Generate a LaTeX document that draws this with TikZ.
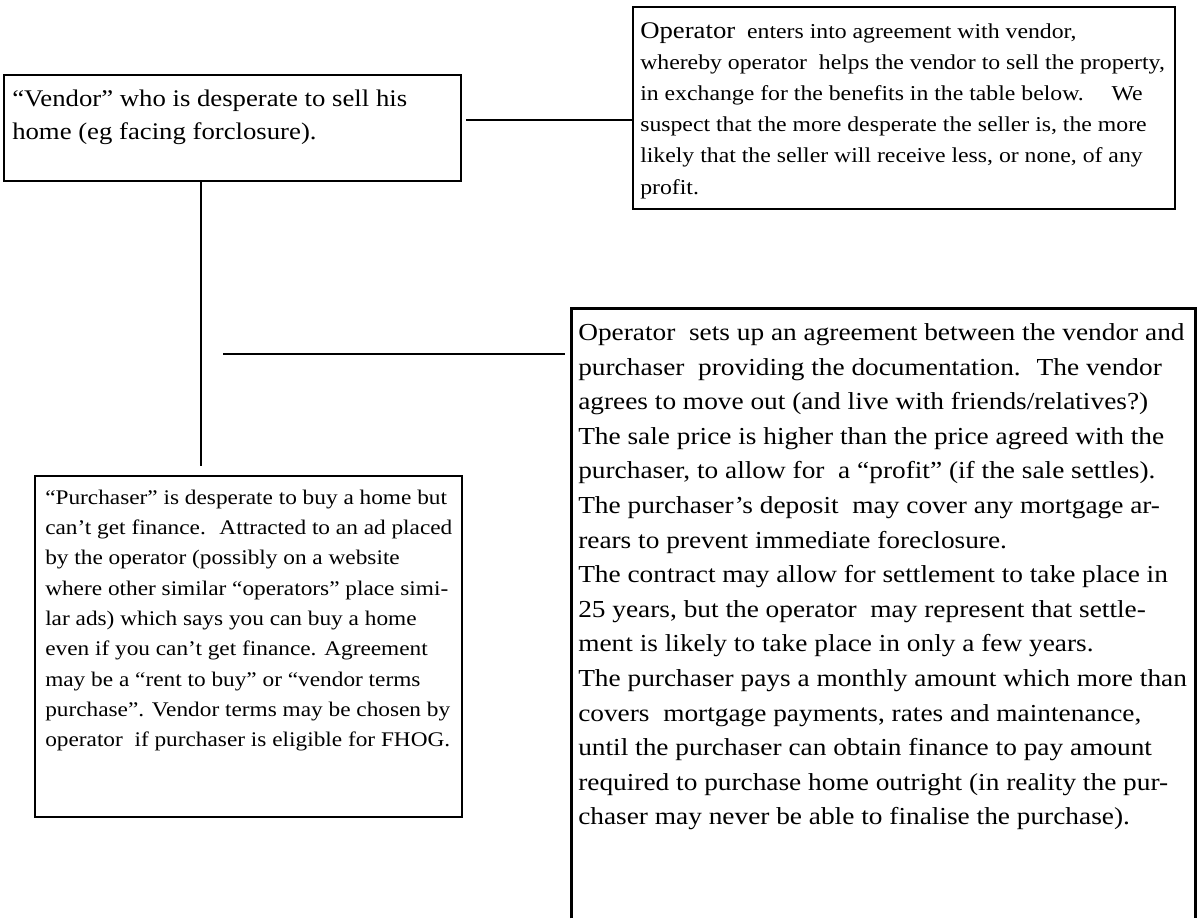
\documentclass[tikz,border=0pt]{standalone}
\usepackage{fontspec}
\setmainfont{Liberation Serif}[FakeStretch=1.12]
\usetikzlibrary{fit}
\tikzset{
  boxline/.style={draw=black, line width=1.9pt, line join=miter},
  conn/.style={draw=black, line width=1.2pt},
  txt/.style={inner sep=0pt, anchor=north west, align=left},
  frame/.style={boxline, inner sep=0pt},
}
\begin{document}
\begin{tikzpicture}[x=0.75pt, y=-0.75pt]
\useasboundingbox[fill=white] (0,0) rectangle (1198,918);

% boxes
\node[frame, fit={(4,75) (461,181)}] (vendor) {};
\node[frame, fit={(633,7) (1175,209)}] (operator) {};
\node[frame, fit={(35,476) (462,817)}] (purch) {};
\node[inner sep=0pt, fit={(572,309) (1195,918)}] (big) {};
\draw[boxline] (big.south west) -- (big.north west) -- (big.north east) -- (big.south east);

% texts
\node[txt, font={\fontsize{17.9}{24.75}\selectfont}] (vtext) at (12,83)
 {\strut “Vendor” who is desperate to sell his\\
  home (eg facing forclosure).};

\node[txt, font={\fontsize{15.9}{23.4}\selectfont}] (otext) at (640,16)
 {\strut{\fontsize{17.9}{23.4}\selectfont Operator}~ enters into agreement with vendor,\\
  whereby operator~ helps the vendor to sell the property,\\
  in exchange for the benefits in the table below.~ ~ We\\
  suspect that the more desperate the seller is, the more\\
  likely that the seller will receive less, or none, of any\\
  profit.};

\node[txt, font={\fontsize{15.6}{22.7}\selectfont}] (ptext) at (45,483)
 {\strut “Purchaser” is desperate to buy a home but\\
  can’t get finance.~ Attracted to an ad placed\\
  by the operator (possibly on a website\\
  where other similar “operators” place simi-\\
  lar ads) which says you can buy a home\\
  even if you can’t get finance. Agreement\\
  may be a “rent to buy” or “vendor terms\\
  purchase”. Vendor terms may be chosen by\\
  operator~ if purchaser is eligible for FHOG.};

\node[txt, font={\fontsize{18.3}{25.95}\selectfont}] (btext) at (578,316)
 {\strut Operator~ sets up an agreement between the vendor and\\
  purchaser~ providing the documentation.~ The vendor\\
  agrees to move out (and live with friends/relatives?)\\
  The sale price is higher than the price agreed with the\\
  purchaser, to allow for~ a “profit” (if the sale settles).\\
  The purchaser’s deposit~ may cover any mortgage ar-\\
  rears to prevent immediate foreclosure.\\
  The contract may allow for settlement to take place in\\
  25 years, but the operator~ may represent that settle-\\
  ment is likely to take place in only a few years.\\
  The purchaser pays a monthly amount which more than\\
  covers~ mortgage payments, rates and maintenance,\\
  until the purchaser can obtain finance to pay amount\\
  required to purchase home outright (in reality the pur-\\
  chaser may never be able to finalise the purchase).};

% connectors
\draw[conn] ([xshift=3pt]vendor.east |- 0,120) -- (operator.west |- 0,120);
\draw[conn, shorten >=6.75pt] (vendor.south -| 201,0) -- (purch.north -| 201,0);
\coordinate (j) at (223,354);
\draw[conn, shorten >=5.25pt] (j) -- (big.west |- j);
\end{tikzpicture}
\end{document}
